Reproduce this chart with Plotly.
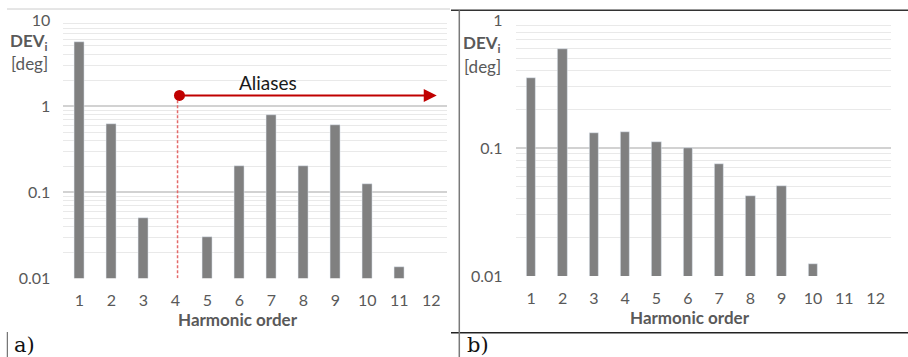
import math
import plotly.graph_objects as go

# ---------------- data ----------------
harmonic = list(range(1, 13))
tick_labels = [str(h) for h in harmonic]
dev_a = [5.6, 0.62, 0.05, None, 0.03, 0.204, 0.79, 0.199, 0.606, 0.124, 0.0135, None]
dev_b = [0.354, 0.59, 0.131, 0.133, 0.111, 0.1006, 0.0754, 0.0419, 0.0508, 0.0124, None, None]
y_ticks_a = [0.01, 0.1, 1, 10]
y_ticks_b = [0.01, 0.1, 1]
alias_start = 4.1
alias_end = 12.17
alias_level = 1.33

W, H = 908, 357
BAR = "#808080"
TXT = "#595959"
RED = "#c00000"
FONT = "Lato"


def px(x):
    return x / W


def py(y):
    return (H - y) / H


def minor_vals(lo, hi):
    return [k * 10 ** e for e in range(lo, hi) for k in range(2, 10)]


fig = go.Figure()
fig.add_trace(go.Bar(x=harmonic, y=dev_a, marker_color=BAR, width=0.31,
                     xaxis="x", yaxis="y"))
fig.add_trace(go.Bar(x=harmonic, y=dev_b, marker_color=BAR, width=0.30,
                     xaxis="x2", yaxis="y2"))

# aliases: dashed vertical line and dot
fig.add_trace(go.Scatter(x=[alias_start - 0.03, alias_start - 0.03], y=[0.01, alias_level],
                         mode="lines", line=dict(color="#e46a6a", width=1.5, dash="3px,2px"),
                         xaxis="x", yaxis="y", hoverinfo="skip"))
fig.add_trace(go.Scatter(x=[alias_start + 0.03], y=[alias_level], mode="markers",
                         marker=dict(color=RED, size=11),
                         xaxis="x", yaxis="y", hoverinfo="skip"))

xcommon = dict(tickmode="array", tickvals=harmonic, ticktext=tick_labels,
               range=[0.5, 12.5], showgrid=False, zeroline=False, showline=False,
               ticks="", tickfont=dict(family=FONT, size=16, color=TXT),
               ticklabelstandoff=11, automargin=False)
ycommon = dict(type="log", tickmode="array", showline=False, zeroline=False,
               gridcolor="#d2d2d2", gridwidth=1.5, ticks="", automargin=False,
               tickfont=dict(family=FONT, size=16, color=TXT), ticklabelstandoff=12)

fig.update_layout(
    width=W, height=H, margin=dict(l=0, r=0, t=0, b=0), autosize=False,
    paper_bgcolor="white", plot_bgcolor="white", showlegend=False, bargap=0,
    xaxis=dict(domain=[px(63.3), px(447.3)], anchor="y", **xcommon),
    yaxis=dict(domain=[py(278.3), py(20)], anchor="x", range=[-2, 1],
               tickvals=y_ticks_a, ticktext=[str(v) for v in y_ticks_a],
               minor=dict(tickmode="array", tickvals=minor_vals(-2, 1), showgrid=True,
                          gridcolor="#e9e9e9", gridwidth=1, ticks=""),
               **ycommon),
    xaxis2=dict(domain=[px(515.6), px(891.3)], anchor="y2", **xcommon),
    yaxis2=dict(domain=[py(276), py(20)], anchor="x2", range=[-2, 0],
                tickvals=y_ticks_b, ticktext=[str(v) for v in y_ticks_b],
                minor=dict(tickmode="array", tickvals=minor_vals(-2, 0), showgrid=True,
                           gridcolor="#e9e9e9", gridwidth=1, ticks=""),
                **ycommon),
)

ann = []
# arrow
ann.append(dict(x=alias_end, y=math.log10(alias_level), ax=alias_start + 0.03,
                ay=math.log10(alias_level), xref="x", yref="y", axref="x", ayref="y",
                text="", showarrow=True, arrowhead=2, arrowsize=1.3, arrowwidth=2,
                arrowcolor=RED, standoff=0, startstandoff=0))
ann.append(dict(x=6.9, y=math.log10(1.88), xref="x", yref="y", text="Aliases",
                showarrow=False, font=dict(family=FONT, size=19, color="#1a1a1a")))
# axis labels
for (xr, ydev, ydeg) in [(50, 41.7, 63), (503, 43.5, 66)]:
    ann.append(dict(x=px(xr), y=py(ydev), xref="paper", yref="paper", xanchor="right",
                    yanchor="middle", showarrow=False,
                    text="<b>DEV<sub>i</sub></b>", font=dict(family=FONT, size=17, color=TXT)))
    ann.append(dict(x=px(xr), y=py(ydeg), xref="paper", yref="paper", xanchor="right",
                    yanchor="middle", showarrow=False,
                    text="[deg]", font=dict(family=FONT, size=17, color=TXT)))
for (xc, yc) in [(238, 319), (690, 317)]:
    ann.append(dict(x=px(xc), y=py(yc), xref="paper", yref="paper", xanchor="center",
                    yanchor="middle", showarrow=False, text="<b>Harmonic order</b>",
                    font=dict(family=FONT, size=17, color=TXT)))
# panel letters
for (xl, txt) in [(12, "a)"), (465, "b)")]:
    ann.append(dict(x=px(xl), y=py(345), xref="paper", yref="paper", xanchor="left",
                    yanchor="middle", showarrow=False, text=txt,
                    font=dict(family="DejaVu Serif", size=21, color="#111111")))
fig.update_layout(annotations=ann)

shapes = [
    dict(type="line", xref="paper", yref="paper", x0=px(7), x1=px(450), y0=py(9), y1=py(9),
         line=dict(color="#cccccc", width=1)),
    dict(type="line", xref="paper", yref="paper", x0=px(451), x1=1, y0=py(10.3), y1=py(10.3),
         line=dict(color="#333333", width=1.5)),
    dict(type="line", xref="paper", yref="paper", x0=px(451), x1=1, y0=py(332.7), y1=py(332.7),
         line=dict(color="#222222", width=1.5)),
    dict(type="line", xref="paper", yref="paper", x0=px(459.3), x1=px(459.3), y0=py(10.3), y1=0,
         line=dict(color="#7a7a7a", width=1.5)),
    dict(type="line", xref="paper", yref="paper", x0=px(7.3), x1=px(7.3), y0=py(332), y1=0,
         line=dict(color="#555555", width=1)),
]
fig.update_layout(shapes=shapes)

fig.write_html("out.html", config={"displayModeBar": False},
               post_script="document.body.style.margin='0';document.body.style.overflow='hidden';")
